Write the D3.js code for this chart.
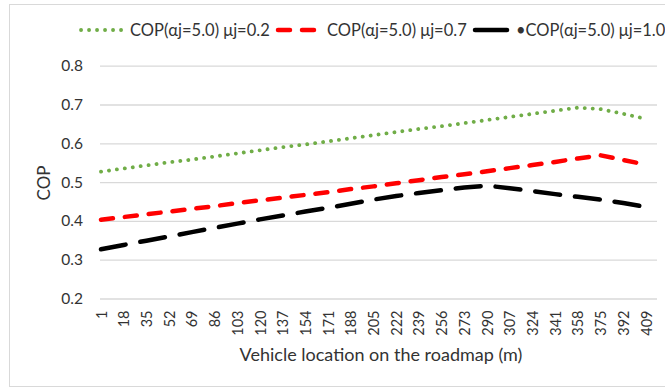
<!DOCTYPE html>
<html><head><meta charset="utf-8">
<script src="https://cdn.jsdelivr.net/npm/d3@7"></script>
<style>
html,body{margin:0;padding:0;background:#fff;}
svg{display:block;font-family:Lato,"Open Sans",sans-serif;}
</style></head>
<body>
<svg id="chart" width="665" height="390"></svg>
<script>
const categories = ["1","18","35","52","69","86","103","120","137","154","171","188","205","222","239","256","273","290","307","324","341","358","375","392","409"];
const mu02 = [0.527,0.535,0.543,0.551,0.558,0.566,0.574,0.582,0.590,0.597,0.605,0.613,0.621,0.629,0.637,0.644,0.652,0.660,0.668,0.676,0.684,0.692,0.688,0.676,0.663];
const mu07 = [0.403,0.410,0.417,0.424,0.431,0.438,0.446,0.453,0.460,0.467,0.474,0.482,0.489,0.497,0.505,0.513,0.520,0.528,0.536,0.544,0.552,0.561,0.569,0.557,0.545];
const mu10 = [0.327,0.338,0.349,0.360,0.371,0.382,0.393,0.404,0.414,0.424,0.434,0.444,0.455,0.464,0.472,0.479,0.486,0.491,0.484,0.477,0.469,0.462,0.455,0.446,0.436];
const yTicks = [0.2,0.3,0.4,0.5,0.6,0.7,0.8];
const seriesNames = ["COP(\u03b1j=5.0) \u03bcj=0.2","COP(\u03b1j=5.0) \u03bcj=0.7","\u2022COP(\u03b1j=5.0) \u03bcj=1.0"];
const xTitle = "Vehicle location on the roadmap (m)";
const yTitle = "COP";

const series = [
  {name: seriesNames[0], values: mu02, color: "#70AD47", width: 3.8, dash: "0.1 7.9", cap: "round"},
  {name: seriesNames[1], values: mu07, color: "#FF0000", width: 4.5, dash: "12 12", cap: "round"},
  {name: seriesNames[2], values: mu10, color: "#000000", width: 4.5, dash: "25 15", cap: "round"}
];

const svg = d3.select("#chart");
const textColor = "#333333";

// frame
svg.append("rect").attr("x",9.5).attr("y",4.5).attr("width",700).attr("height",382)
  .attr("fill","none").attr("stroke","#d9d9d9").attr("stroke-width",1);

const plotL = 100, plotR = 657, plotT = 65.7, plotB = 298.5;
const x = d3.scalePoint().domain(categories).range([101, 646]).padding(0);
const y = d3.scaleLinear().domain([0.2, 0.8]).range([plotB, plotT]);

// y axis + gridlines
const gy = svg.append("g").attr("transform", `translate(${plotL},0)`)
  .call(d3.axisLeft(y).tickValues(yTicks).tickFormat(d3.format(".1f")).tickSize(-(plotR-plotL)).tickPadding(17));
gy.select(".domain").remove();
gy.selectAll(".tick line").attr("stroke","#d9d9d9").attr("stroke-width",1.3);
gy.selectAll(".tick text").attr("fill",textColor).style("font-size","15.5px").style("font-family","Lato");

// x axis
const gx = svg.append("g").attr("transform", `translate(0,${plotB})`)
  .call(d3.axisBottom(x).tickSize(0));
gx.select(".domain").remove();
gx.selectAll(".tick text")
  .attr("transform","rotate(-90)")
  .attr("x",-12).attr("y",0).attr("dy","0.35em")
  .attr("text-anchor","end")
  .attr("fill",textColor).style("font-size","14.5px").style("font-family","Lato");

// lines
const line = d3.line().x((d,i)=>x(categories[i])).y(d=>y(d));
series.forEach(s=>{
  svg.append("path").datum(s.values)
    .attr("d", line).attr("fill","none")
    .attr("stroke", s.color).attr("stroke-width", s.width)
    .attr("stroke-dasharray", s.dash).attr("stroke-linecap", s.cap)
    .attr("stroke-linejoin","round");
});

// titles
svg.append("text").attr("x",381).attr("y",355).attr("dy","0.35em").attr("text-anchor","middle")
  .attr("fill",textColor).style("font-size","18px").text(xTitle);
svg.append("text").attr("transform","translate(44.5,183) rotate(-90)").attr("dy","0.35em").attr("text-anchor","middle")
  .attr("fill",textColor).style("font-size","17px").text(yTitle);

// legend
const legY = 30;
const legItems = [
  {s: series[0], x0: 81, x1: 124, tx: 130},
  {s: series[1], x0: 278, x1: 320, tx: 327},
  {s: series[2], x0: 475, x1: 507, tx: 516}
];
legItems.forEach((it,i)=>{
  const dash = i===2 ? null : it.s.dash;
  svg.append("line").attr("x1",it.x0).attr("x2",it.x1).attr("y1",legY).attr("y2",legY)
    .attr("stroke",it.s.color).attr("stroke-width",it.s.width)
    .attr("stroke-dasharray",dash).attr("stroke-linecap",it.s.cap);
  svg.append("text").attr("x",it.tx).attr("y",legY).attr("dy","0.35em")
    .attr("fill",textColor).style("font-size","16.5px").text(it.s.name);
});
</script>
</body></html>
